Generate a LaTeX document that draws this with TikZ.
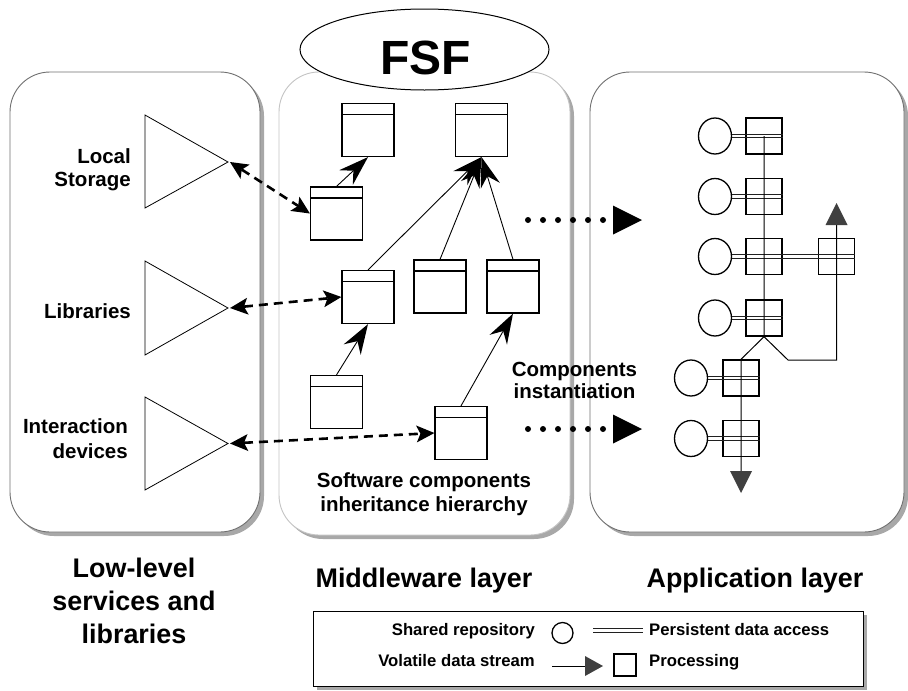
\documentclass[tikz,border=0pt]{standalone}
\usepackage{fontspec}
\setmainfont{Liberation Sans}
\usetikzlibrary{arrows.meta,shapes.geometric}
\definecolor{panelgray}{HTML}{707070}
\definecolor{midgray}{HTML}{C4C4C4}
\definecolor{shadowgray}{HTML}{A8A8A8}
\definecolor{arrowgray}{HTML}{404040}
\definecolor{dblgray}{HTML}{202020}
\begin{document}
\begin{tikzpicture}[x=1pt,y=-1pt,
  panel/.style={rounded corners=40pt, fill=white, draw=panelgray, line width=0.9pt},
  midpanel/.style={rounded corners=40pt, fill=white, draw=midgray, line width=0.9pt},
  shadowbox/.style={rounded corners=40pt, fill=shadowgray, draw=none},
  cbox/.style={draw, line width=1.2pt, fill=white, minimum width=52pt, minimum height=53pt, inner sep=0pt,
    path picture={\draw[line width=1.2pt] ([yshift=-11pt]path picture bounding box.north west) -- ([yshift=-11pt]path picture bounding box.north east);}},
  inherit/.style={-{Stealth[length=30pt,width=20pt,inset=10pt,line width=0pt]}, line width=0.9pt},
  dasharrow/.style={{Stealth[length=18pt,width=17pt,inset=4pt,line width=0pt]}-{Stealth[length=18pt,width=17pt,inset=4pt,line width=0pt]}, line width=2.6pt, dash pattern=on 9pt off 6pt},
  dotarrow/.style={-{Triangle[length=29pt,width=29pt,line width=0pt]}, line width=6pt, line cap=round, dash pattern=on 0pt off 15pt},
  tri/.style={draw, line width=0.8pt, fill=white},
  circ/.style={ellipse, draw, line width=1.3pt, minimum width=33pt, minimum height=36pt, inner sep=0pt, fill=white},
  sq/.style={rectangle, draw, line width=1.3pt, minimum size=36pt, inner sep=0pt},
  dblline/.style={draw=dblgray, line width=0.9pt},
  flow/.style={draw=black, line width=1pt, -{Triangle[length=22pt,width=22pt,line width=0pt,color=arrowgray]}},
  lbl/.style={font=\fontsize{20.5}{24}\selectfont\bfseries, inner sep=0pt},
  big/.style={font=\fontsize{26.9}{33}\selectfont\bfseries, inner sep=0pt},
  leg/.style={font=\fontsize{16.7}{20}\selectfont\bfseries, inner sep=0pt}
]
\useasboundingbox (0,0) rectangle (908,691);
\fill[white] (0,0) rectangle (908,691);

% panels
\fill[shadowbox] (14,76) rectangle (264,536);
\fill[shadowbox] (283,76) rectangle (574,539);
\fill[shadowbox] (594,76) rectangle (908,536);
\draw[panel] (10,72) rectangle (260,532);
\draw[midpanel] (279,72) rectangle (570,535);
\draw[panel] (590,72) rectangle (904,532);

% FSF
\node[ellipse, draw, line width=1pt, fill=white, minimum width=249pt, minimum height=81pt, inner sep=0pt] (fsf) at (424.5,49.5) {};
\node[font=\fontsize{48}{50}\selectfont\bfseries, inner sep=0pt, anchor=base] at (425.5,74) {FSF};

% class boxes
\node[cbox] (A) at (368,130) {};
\node[cbox] (B) at (481.5,130) {};
\node[cbox] (C) at (336.5,213.5) {};
\node[cbox] (D) at (368,297) {};
\node[cbox] (E) at (440,286.5) {};
\node[cbox] (F) at (513,286.5) {};
\node[cbox] (G) at (336.5,402) {};
\node[cbox] (H) at (461,433) {};

\draw[inherit] (C.north) -- (A.south);
\draw[inherit] (D.north) -- (B.south);
\draw[inherit] (E.north) -- (B.south);
\draw[inherit] (F.north) -- (B.south);
\draw[inherit] (G.north) -- (D.south);
\draw[inherit] (H.north) -- (F.south);

% triangles
\draw[tri] (145,115) -- (145,208) -- (228,162) -- cycle;
\draw[tri] (145,261) -- (145,355) -- (228,308) -- cycle;
\draw[tri] (145,397) -- (145,490) -- (228,443.5) -- cycle;
\coordinate (lsT) at (230,162);
\coordinate (libT) at (230,308);
\coordinate (intT) at (230,443.5);

\draw[dasharrow] (lsT) -- (C.west);
\draw[dasharrow] (libT) -- (D.west);
\draw[dasharrow] (intT) -- (H.west);

% left labels
\node[lbl, anchor=base east] at (131,163) {Local};
\node[lbl, anchor=base east] at (131,186) {Storage};
\node[lbl, anchor=base east] at (131,318) {Libraries};
\node[lbl, anchor=base east] at (128,433) {Interaction};
\node[lbl, anchor=base east] at (128,458) {devices};

% middle labels
\node[lbl, anchor=base] at (424,487) {Software components};
\node[lbl, anchor=base] at (424,511) {inheritance hierarchy};
\node[lbl, anchor=base] at (574.5,376) {Components};
\node[lbl, anchor=base] at (574.5,398) {instantiation};

% dotted arrows
\coordinate (d1s) at (528,220);
\coordinate (d1e) at (642,220);
\coordinate (d2s) at (528,429);
\coordinate (d2e) at (642,429);
\draw[dotarrow] (d1s) -- (d1e);
\draw[dotarrow] (d2s) -- (d2e);

% application layer
\node[circ] (c1) at (715,136) {};
\node[circ] (c2) at (715,196.5) {};
\node[circ] (c3) at (715,256.5) {};
\node[circ] (c4) at (715,318) {};
\node[circ] (c5) at (691,378) {};
\node[circ] (c6) at (691,438.5) {};
\node[sq] (s1) at (764,136) {};
\node[sq] (s2) at (764,196.5) {};
\node[sq] (s3) at (764,256.5) {};
\node[sq] (s4) at (764,318) {};
\node[sq] (s5) at (741,378) {};
\node[sq] (s6) at (741,438.5) {};
\node[sq] (s7) at (836.5,256.5) {};

\foreach \a/\b in {c1/s1,c2/s2,c3/s7,c4/s4,c5/s5,c6/s6} {
  \draw[dblline] ([yshift=1.6pt]\a.east) -- ([yshift=1.6pt]\b.east);
  \draw[dblline] ([yshift=-1.6pt]\a.east) -- ([yshift=-1.6pt]\b.east);
}

\coordinate (down) at (741,493);
\coordinate (k1) at (788,360);
\coordinate (k2) at (836.5,360);
\coordinate (up) at (836.5,203);
\draw[flow] (s1.center) -- (s4.south) -- (s5.north) -- (down);
\draw[flow] (s4.south) -- (k1) -- (k2) -- (up);

% bottom captions
\node[big, anchor=base] at (134,577) {Low-level};
\node[big, anchor=base] at (134,610) {services and};
\node[big, anchor=base] at (134,643) {libraries};
\node[big, anchor=base] at (424,587) {Middleware layer};
\node[big, anchor=base] at (755,587) {Application layer};

% legend
\fill[shadowgray] (317,615) rectangle (867,690);
\draw[fill=white, line width=1pt] (313,611) rectangle (863,686);
\node[leg, anchor=base east] at (535,635) {Shared repository};
\node[leg, anchor=base east] at (535,666) {Volatile data stream};
\node[leg, anchor=base west] at (649,635) {Persistent data access};
\node[leg, anchor=base west] at (649,666) {Processing};
\node[ellipse, draw, line width=1.3pt, minimum width=21pt, minimum height=21pt, inner sep=0pt] (lc) at (562.5,633) {};
\coordinate (ld1) at (593,630.5);
\coordinate (ld2) at (643,630.5);
\draw[dblline] ([yshift=1.6pt]ld1) -- ([yshift=1.6pt]ld2);
\draw[dblline] ([yshift=-1.6pt]ld1) -- ([yshift=-1.6pt]ld2);
\coordinate (la1) at (552,666);
\coordinate (la2) at (603,666);
\draw[line width=1pt, -{Triangle[length=18pt,width=20pt,line width=0pt,color=arrowgray]}] (la1) -- (la2);
\node[rectangle, draw, line width=1.3pt, minimum size=22pt, inner sep=0pt] (lsq) at (625,665) {};
\end{tikzpicture}
\end{document}
